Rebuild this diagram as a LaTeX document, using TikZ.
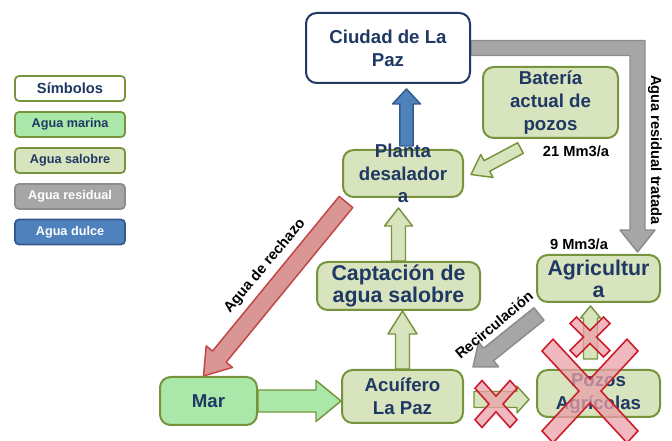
\documentclass[tikz,border=0pt]{standalone}
\usepackage{fontspec}
\setmainfont{Liberation Sans}
\usepackage{tikz}
\usetikzlibrary{calc,backgrounds}

\definecolor{azul}{RGB}{31,56,100}
\definecolor{verdeborde}{RGB}{119,147,60}
\definecolor{salobrefill}{RGB}{215,228,189}
\definecolor{marinafill}{RGB}{170,232,170}
\definecolor{grisfill}{RGB}{166,166,166}
\definecolor{grisborde}{RGB}{140,140,140}
\definecolor{dulcefill}{RGB}{79,129,189}
\definecolor{dulceborde}{RGB}{50,90,140}
\definecolor{rechazofill}{RGB}{218,150,148}
\definecolor{rechazoborde}{RGB}{192,70,70}
\definecolor{cruzfill}{RGB}{235,160,170}
\definecolor{cruzborde}{RGB}{205,30,45}

% block arrow: [style]{from}{to}{half shaft}{half head}{head length}
\newcommand{\bigarrow}[6][]{%
  \coordinate (neck) at ($(#3)!#6!(#2)$);
  \draw[#1] ($(#2)!#4!90:(#3)$) -- ($(neck)!#4!90:(#3)$) -- ($(neck)!#5!90:(#3)$) -- (#3)
    -- ($(neck)!#5!-90:(#3)$) -- ($(neck)!#4!-90:(#3)$) -- ($(#2)!#4!-90:(#3)$) -- cycle;
}

\tikzset{
  cruz/.style={fill=cruzfill, fill opacity=0.75, draw=cruzborde, line width=1.2pt},
  pics/tache/.style n args={2}{code={
    \draw[cruz] (#2,0) -- (#1,{#1-#2}) -- ({#1-#2},#1) -- (0,#2) -- ({#2-#1},#1) -- (-#1,{#1-#2})
      -- (-#2,0) -- (-#1,{#2-#1}) -- ({#2-#1},-#1) -- (0,-#2) -- ({#1-#2},-#1) -- (#1,{#2-#1}) -- cycle;
  }},
}

\begin{document}
\begin{tikzpicture}[x=0.75pt,y=0.75pt,yscale=-1,xscale=1,
  txt/.style={text=azul, font=\bfseries\fontsize{14}{17}\selectfont, align=center, inner sep=0pt},
  caja/.style={txt, rounded corners=8pt, line width=1.5pt, draw=verdeborde, fill=salobrefill},
  leyenda/.style={rounded corners=3pt, line width=1.3pt, minimum width=82.5pt, minimum height=18.75pt,
    inner sep=0pt, text=azul, font=\bfseries\fontsize{9.5}{11}\selectfont},
  etiqueta/.style={inner sep=0pt, font=\bfseries\fontsize{11}{13}\selectfont},
  flecha/.style={line width=1.1pt, line join=round},
  marina/.style={flecha, fill=marinafill, draw=verdeborde},
  salobre/.style={flecha, fill=salobrefill, draw=verdeborde},
  residual/.style={flecha, fill=grisfill, draw=grisborde},
  dulce/.style={flecha, fill=dulcefill, draw=dulceborde},
  rechazo/.style={flecha, fill=rechazofill, draw=rechazoborde}]
\useasboundingbox (0,0) rectangle (672,441);

% Legend
\draw (70,88.5) node (simbolos) [leyenda, draw=verdeborde, fill=white, font=\bfseries\fontsize{11}{13}\selectfont] {Símbolos};
\draw (70,124.5) node (leymarina) [leyenda, draw=verdeborde, fill=marinafill] {Agua marina};
\draw (70,160.5) node (leysalobre) [leyenda, draw=verdeborde, fill=salobrefill] {Agua salobre};
\draw (70,196.5) node (leyresidual) [leyenda, draw=grisborde, fill=grisfill, text=white] {Agua residual};
\draw (70,232) node (leydulce) [leyenda, draw=dulceborde, fill=dulcefill, text=white] {Agua dulce};

% Boxes
\draw (388,48) node (ciudad) [caja, draw=azul, fill=white, minimum width=123pt, minimum height=52.5pt] {Ciudad de La\\Paz};
\draw (550.5,102.5) node (bateria) [caja, minimum width=101.25pt, minimum height=53.25pt] {Batería\\actual de\\pozos};
\draw (403,173.5) node (planta) [caja, minimum width=90pt, minimum height=35.25pt, label={[txt]center:{Planta\\desalador\\a}}] {};
\draw (398.5,286) node (captacion) [caja, font=\bfseries\fontsize{16}{16.5}\selectfont, minimum width=122.25pt, minimum height=36pt] {Captación de\\agua salobre};
\draw (402.5,396.5) node (acuifero) [caja, minimum width=90.75pt, minimum height=39.75pt] {Acuífero\\La Paz};
\draw (208.5,401) node (mar) [caja, fill=marinafill, minimum width=72.75pt, minimum height=36pt] {Mar};
\draw (598.5,278.5) node (agricultura) [caja, font=\bfseries\fontsize{16}{16.5}\selectfont, minimum width=92.25pt, minimum height=35.25pt] {Agricultur\\a};
\draw (598.5,393.5) node (pozos) [caja, minimum width=92.25pt, minimum height=35.25pt] {Pozos\\Agrícolas};

% Text Node
\draw (576,151) node (q21) [etiqueta] {21 Mm3/a};
\draw (579,244) node (q9) [etiqueta] {9 Mm3/a};
\draw (655,150) node (tratada) [etiqueta, rotate=-90] {Agua residual tratada};
\draw (265,266) node (txtrechazo) [etiqueta, rotate=50] {Agua de rechazo};
\draw (494,325) node (txtrecirc) [etiqueta, rotate=40] {Recirculación};

% Arrow ends
\coordinate (ma2) at (mar.east -| acuifero.west);
\coordinate (ac2) at (acuifero.north |- captacion.south);
\coordinate (cp2) at ($(captacion.north |- planta.south)+(0,10)$);
\coordinate (pc1) at ($(planta.north)+(3.5,-3)$);
\coordinate (pc2) at ($(planta.north |- ciudad.south)+(3.5,5)$);
\coordinate (bp1) at ($(bateria.south)+(-30,9)$);
\coordinate (bp2) at ($(planta.east)+(7,1)$);
\coordinate (pm1) at ($(planta.south west)+(4,4)$);
\coordinate (pm2) at ($(mar.north)+(-5,0)$);
\coordinate (ar1) at ($(agricultura.south west)+(3,11)$);
\coordinate (ar2) at ($(acuifero.north east)+(9,-2)$);
\coordinate (ap1) at ($(acuifero.east)+(10,3)$);
\coordinate (ap2) at ($(acuifero.east -| pozos.west)+(-7,3)$);
\coordinate (pa1) at ($(pozos.north)+(-8,-10)$);
\coordinate (pa2) at ($(agricultura.south)+(-8,3)$);
\coordinate (rt) at (637.5,252);

\begin{scope}[on background layer]
\draw[residual] ($(ciudad.east)+(0,-7.5)$) -| ($(rt)+(7.5,-22)$) -- ($(rt)+(17.5,-22)$) -- (rt)
  -- ($(rt)+(-17.5,-22)$) -- ($(rt)+(-7.5,-22)$) |- ($(ciudad.east)+(0,7.5)$) -- cycle;
\bigarrow[marina]{mar.east}{ma2}{8.25pt}{15.4pt}{18.75pt}
\bigarrow[salobre]{acuifero.north}{ac2}{5.25pt}{10.9pt}{17.25pt}
\bigarrow[salobre]{captacion.north}{cp2}{5.25pt}{10.5pt}{13.5pt}
\bigarrow[dulce]{pc1}{pc2}{4.9pt}{10.5pt}{11.25pt}
\bigarrow[salobre]{bp1}{bp2}{4.5pt}{9.75pt}{13.5pt}
\bigarrow[rechazo]{pm1}{pm2}{6.6pt}{12.75pt}{18.75pt}
\bigarrow[residual]{ar1}{ar2}{6pt}{12pt}{15pt}
\bigarrow[salobre]{ap1}{ap2}{6pt}{10pt}{9pt}
\bigarrow[salobre]{pa1}{pa2}{5.25pt}{7.5pt}{9pt}
\end{scope}

% Crosses
\pic at (590,337) {tache={20}{6.5}};
\pic[yscale=1.08] at (590,391) {tache={48}{11}};
\pic[yscale=1.12] at (496,404) {tache={21}{7}};

\end{tikzpicture}
\end{document}
